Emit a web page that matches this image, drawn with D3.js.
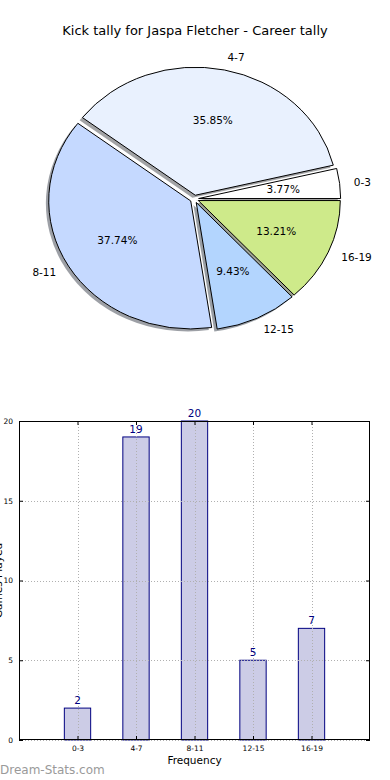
<!DOCTYPE html>
<html><head><meta charset="utf-8">
<script src="https://cdn.jsdelivr.net/npm/d3@7"></script>
<style>
html,body{margin:0;padding:0;background:#fff;}
svg{display:block;font-family:"DejaVu Sans",sans-serif;}
</style></head>
<body><svg id="c" width="390" height="780"></svg>
<script>
const title = "Kick tally for Jaspa Fletcher - Career tally";
const categories = ["0-3", "4-7", "8-11", "12-15", "16-19"];
const values = [2, 19, 20, 5, 7];
const pieColors = ["#FFFFFF", "#E9F1FE", "#C5D9FF", "#B3D5FE", "#CEEA8A"];
const yTicks = [0, 5, 10, 15, 20];
const xLabel = "Frequency";
const yLabel = "Games Played";
const watermark = "Dream-Stats.com";

const svg = d3.select("#c");

// Title
svg.append("text").attr("x", 195).attr("y", 35).attr("text-anchor", "middle")
  .attr("font-size", 13).attr("fill", "#000").text(title);

// ---------- Pie ----------
const cx = 194.4, cy = 199, rx = 142, ry = 128;
const explode = 0.03, shadowOff = 0.02;
const total = d3.sum(values);
const pie = d3.pie().sort(null).startAngle(Math.PI / 2).endAngle(Math.PI / 2 - 2 * Math.PI);
const arcs = pie(values);
const arc = d3.arc().innerRadius(0).outerRadius(rx);
const pg = svg.append("g");
function off(d) {
  const m = (d.startAngle + d.endAngle) / 2;
  return [explode * rx * Math.sin(m), -explode * ry * Math.cos(m), m];
}
function darker(c) {
  const r = d3.rgb(c);
  return d3.rgb(r.r * 0.3, r.g * 0.3, r.b * 0.3).toString();
}
// shadows
arcs.forEach((d, i) => {
  const [dx, dy] = off(d);
  pg.append("path")
    .attr("transform", `translate(${cx + dx - shadowOff * rx},${cy + dy + shadowOff * ry}) scale(1,${ry / rx})`)
    .attr("d", arc(d)).attr("fill", darker(pieColors[i])).attr("fill-opacity", 0.5).attr("stroke", "none");
});
// slices
arcs.forEach((d, i) => {
  const [dx, dy] = off(d);
  pg.append("path")
    .attr("transform", `translate(${cx + dx},${cy + dy}) scale(1,${ry / rx})`)
    .attr("d", arc(d)).attr("fill", pieColors[i]).attr("stroke", "#000")
    .attr("stroke-width", 1).attr("vector-effect", "non-scaling-stroke")
    .attr("stroke-linejoin", "round");
});
// labels
arcs.forEach((d, i) => {
  const [dx, dy, m] = off(d);
  const sx = Math.sin(m), sy = -Math.cos(m);
  const lx = cx + dx + 1.1 * rx * sx, ly = cy + dy + 1.1 * ry * sy;
  pg.append("text").attr("x", lx).attr("y", ly).attr("dy", "0.35em")
    .attr("text-anchor", sx > 0 ? "start" : "end").attr("font-size", 10.5).attr("fill", "#000")
    .text(categories[i]);
  const px = cx + dx + 0.6 * rx * sx, py = cy + dy + 0.6 * ry * sy;
  pg.append("text").attr("x", px).attr("y", py).attr("dy", "0.35em")
    .attr("text-anchor", "middle").attr("font-size", 10.5).attr("fill", "#000")
    .text((values[i] / total * 100).toFixed(2) + "%");
});

// ---------- Bar chart ----------
const L = 19, R = 370, T = 421, B = 740;
const x = d3.scaleLinear().domain([-1, categories.length]).range([L, R]);
const y = d3.scaleLinear().domain([0, 20]).range([B, T]);
const bw = 0.45;
const bg = svg.append("g");

bg.selectAll("rect.bar").data(values).enter().append("rect")
  .attr("x", (d, i) => x(i - bw / 2)).attr("width", (d, i) => x(i + bw / 2) - x(i - bw / 2))
  .attr("y", d => y(d)).attr("height", d => y(0) - y(d))
  .attr("fill", "#CCCCE6").attr("stroke", "#000080").attr("stroke-width", 1);

// grid
const grid = bg.append("g").attr("stroke", "#b0b0b0").attr("stroke-width", 1).attr("stroke-dasharray", "1,2");
yTicks.forEach(t => grid.append("line").attr("x1", L).attr("x2", R).attr("y1", Math.round(y(t)) + 0.5).attr("y2", Math.round(y(t)) + 0.5));
categories.forEach((c, i) => grid.append("line").attr("x1", Math.round(x(i)) + 0.5).attr("x2", Math.round(x(i)) + 0.5).attr("y1", T).attr("y2", B));

// frame
bg.append("rect").attr("x", L + 0.5).attr("y", T + 0.5).attr("width", R - L - 1).attr("height", B - T - 1)
  .attr("fill", "none").attr("stroke", "#000").attr("stroke-width", 1);

// axes with inward ticks
const yAxisL = d3.axisLeft(y).tickValues(yTicks).tickSizeInner(-4).tickSizeOuter(0).tickPadding(6);
const gy = bg.append("g").attr("transform", `translate(${L},0)`).call(yAxisL);
gy.select(".domain").remove();
gy.selectAll("text").attr("font-size", 7.5).attr("font-family", "DejaVu Sans");
const yAxisR = d3.axisRight(y).tickValues(yTicks).tickSizeInner(-4).tickSizeOuter(0).tickFormat("");
const gyr = bg.append("g").attr("transform", `translate(${R},0)`).call(yAxisR);
gyr.select(".domain").remove();

const xAxis = d3.axisBottom(x).tickValues(d3.range(categories.length)).tickFormat(i => categories[i])
  .tickSizeInner(-4).tickSizeOuter(0).tickPadding(6);
const gx = bg.append("g").attr("transform", `translate(0,${B})`).call(xAxis);
gx.select(".domain").remove();
gx.selectAll("text").attr("font-size", 7.5).attr("font-family", "DejaVu Sans");
const xAxisT = d3.axisTop(x).tickValues(d3.range(categories.length)).tickFormat("").tickSizeInner(-4).tickSizeOuter(0);
const gxt = bg.append("g").attr("transform", `translate(0,${T})`).call(xAxisT);
gxt.select(".domain").remove();

// value labels
bg.selectAll("text.val").data(values).enter().append("text")
  .attr("x", (d, i) => x(i)).attr("y", d => y(d) - 4).attr("text-anchor", "middle")
  .attr("font-size", 10.5).attr("fill", "#000080").text(d => d);

// axis labels
svg.append("text").attr("x", (L + R) / 2).attr("y", 764).attr("text-anchor", "middle")
  .attr("font-size", 10.5).attr("fill", "#000").text(xLabel);
svg.append("text").attr("transform", `translate(2,${(T + B) / 2}) rotate(-90)`).attr("text-anchor", "middle")
  .attr("font-size", 10.5).attr("fill", "#000").text(yLabel);

// watermark
svg.append("text").attr("x", 0).attr("y", 774).attr("font-size", 12).attr("fill", "#9a9a9a")
  .text(watermark);
</script></body></html>
